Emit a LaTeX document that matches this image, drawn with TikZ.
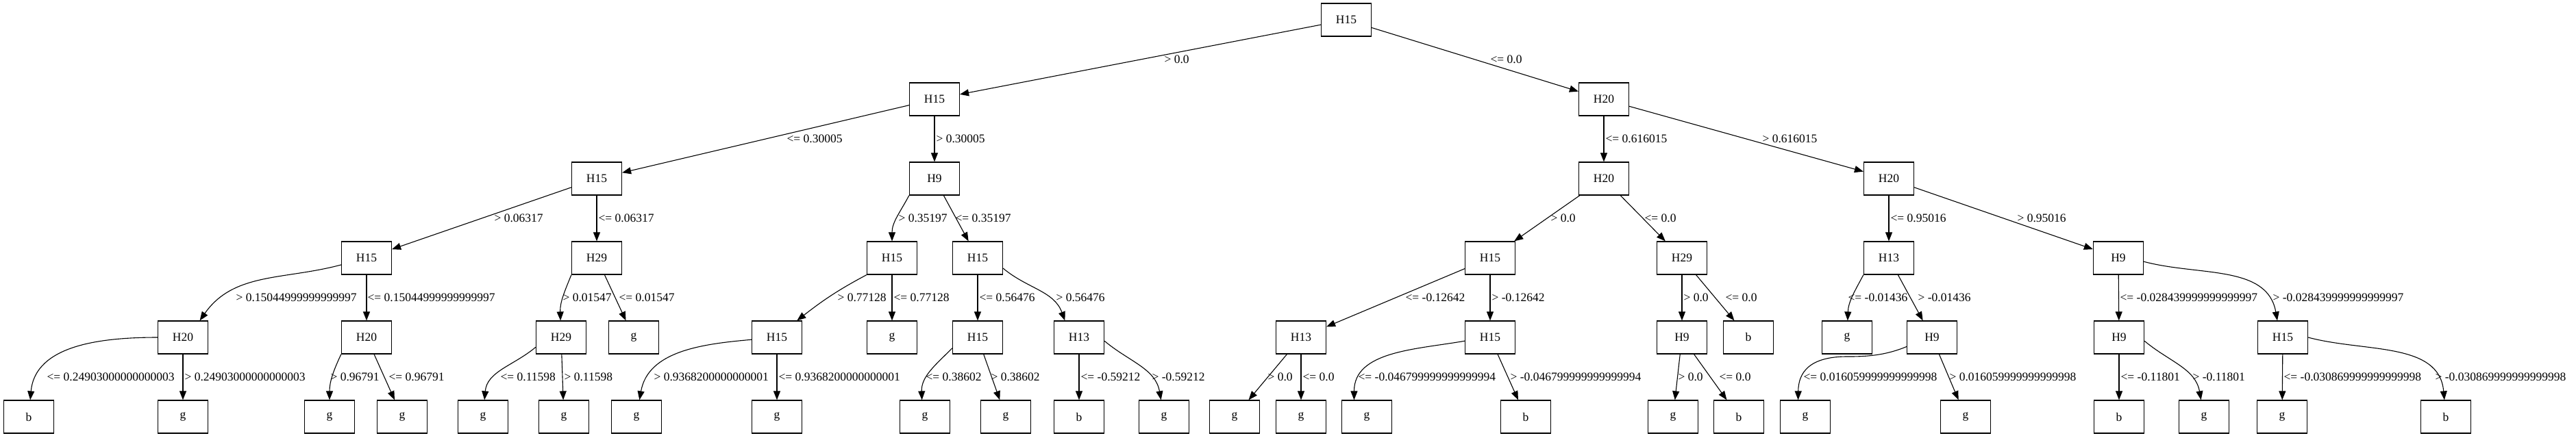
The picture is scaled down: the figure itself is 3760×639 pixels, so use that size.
\documentclass[tikz,border=0pt]{standalone}
\usepackage{fontspec}
\setmainfont{Liberation Serif}
\usepackage{tikz}
\usetikzlibrary{calc, positioning, arrows.meta}
\tikzset{split box/.style={draw=black, rectangle, fill=white, line width=0.6pt, minimum width=36.5pt, minimum height=24pt, inner sep=0pt}}
\tikzset{leaf box/.style={split box}}
\tikzset{branch arrow/.style={-{Triangle[length=6.5pt,width=5pt]}, line width=0.55pt}}
\tikzset{split label/.style={anchor=west, inner sep=0pt}}

\begin{document}
\begin{tikzpicture}[x=0.5pt, y=-0.5pt, font=\fontsize{8.75pt}{10pt}\selectfont]
\useasboundingbox (0,0) rectangle (3760,639);
% level 0 and 1
\node[split box] (t) at (1965,29) {H15};
\node[split box] (tl) at (1364,145) {H15};
\node[split box] (tr) at (2341,145) {H20};
% level 2
\node[split box] (tll) at (871,261) {H15};
\node[split box] (tlr) at (1364,261) {H9};
\node[split box] (trl) at (2341,261) {H20};
\node[split box] (trr) at (2757,261) {H20};
% level 3
\node[split box] (tlll) at (535,377) {H15};
\node[split box] (tllr) at (871,377) {H29};
\node[split box] (tlrl) at (1302,377) {H15};
\node[split box] (tlrr) at (1427,377) {H15};
\node[split box] (trll) at (2175,377) {H15};
\node[split box] (trlr) at (2455,377) {H29};
\node[split box] (trrl) at (2757,377) {H13};
\node[split box] (trrr) at (3092,377) {H9};
% level 4
\node[split box] (tllll) at (267,493) {H20};
\node[split box] (tlllr) at (535,493) {H20};
\node[split box] (tllrl) at (819,493) {H29};
\node[leaf box] (tllrr) at (925,493) {g};
\node[split box] (tlrll) at (1134,493) {H15};
\node[leaf box] (tlrlr) at (1302,493) {g};
\node[split box] (tlrrl) at (1427,493) {H15};
\node[split box] (tlrrr) at (1575,493) {H13};
\node[split box] (trlll) at (1899,493) {H13};
\node[split box] (trllr) at (2175,493) {H15};
\node[split box] (trlrl) at (2455,493) {H9};
\node[leaf box] (trlrr) at (2552,493) {b};
\node[leaf box] (trrll) at (2696,493) {g};
\node[split box] (trrlr) at (2820,493) {H9};
\node[split box] (trrrl) at (3093,493) {H9};
\node[split box] (trrrr) at (3332,493) {H15};
% level 5
\node[leaf box] (tlllll) at (42,609) {b};
\node[leaf box] (tllllr) at (267,609) {g};
\node[leaf box] (tlllrl) at (481,609) {g};
\node[leaf box] (tlllrr) at (587,609) {g};
\node[leaf box] (tllrll) at (705,609) {g};
\node[leaf box] (tllrlr) at (823,609) {g};
\node[leaf box] (tlrlll) at (929,609) {g};
\node[leaf box] (tlrllr) at (1134,609) {g};
\node[leaf box] (tlrrll) at (1350,609) {g};
\node[leaf box] (tlrrlr) at (1468,609) {g};
\node[leaf box] (tlrrrl) at (1575,609) {b};
\node[leaf box] (tlrrrr) at (1699,609) {g};
\node[leaf box] (trllll) at (1802,609) {g};
\node[leaf box] (trlllr) at (1899,609) {g};
\node[leaf box] (trllrl) at (1995,609) {g};
\node[leaf box] (trllrr) at (2227,609) {b};
\node[leaf box] (trlrll) at (2442,609) {g};
\node[leaf box] (trlrlr) at (2538,609) {b};
\node[leaf box] (trrlrl) at (2635,609) {g};
\node[leaf box] (trrlrr) at (2869,609) {g};
\node[leaf box] (trrrll) at (3093,609) {b};
\node[leaf box] (trrrlr) at (3217,609) {g};
\node[leaf box] (trrrrl) at (3331,609) {g};
\node[leaf box] (trrrrr) at (3570,609) {b};

% edges 0-1-2
\draw[branch arrow] (t) -- (tl) node[split label] at (1699,87) {> 0.0};
\draw[branch arrow] (t) -- (tr) node[split label] at (2175,87) {<= 0.0};
\draw[branch arrow] (tl) -- (tll) node[split label] at (1148,203) {<= 0.30005};
\draw[branch arrow] (tl) -- (tlr) node[split label] at (1366,203) {> 0.30005};
\draw[branch arrow] (tr) -- (trl) node[split label] at (2343,203) {<= 0.616015};
\draw[branch arrow] (tr) -- (trr) node[split label] at (2572,203) {> 0.616015};
% edges 2-3
\draw[branch arrow] (tll) -- (tlll) node[split label] at (721,319) {> 0.06317};
\draw[branch arrow] (tll) -- (tllr) node[split label] at (873,319) {<= 0.06317};
\draw[branch arrow] (tlr.south west) to[out=-118,in=90] (tlrl) node[split label] at (1311,319) {> 0.35197};
\draw[branch arrow] (tlr) -- (tlrr) node[split label] at (1394,319) {<= 0.35197};
\draw[branch arrow] (trl) -- (trll) node[split label] at (2263,319) {> 0.0};
\draw[branch arrow] (trl) -- (trlr) node[split label] at (2400,319) {<= 0.0};
\draw[branch arrow] (trr) -- (trrl) node[split label] at (2759,319) {<= 0.95016};
\draw[branch arrow] (trr) -- (trrr) node[split label] at (2944,319) {> 0.95016};
% edges 3-4
\draw[branch arrow] (tlll.195) to[out=195,in=55] (tllll.45) node[split label] at (344,435) {> 0.15044999999999997};
\draw[branch arrow] (tlll) -- (tlllr) node[split label] at (536,435) {<= 0.15044999999999997};
\draw[branch arrow] (tllr.south west) to[out=-112,in=92] (tllrl) node[split label] at (821,435) {> 0.01547};
\draw[branch arrow] (tllr) -- (tllrr) node[split label] at (903,435) {<= 0.01547};
\draw[branch arrow] (tlrl.south west) to[out=-152,in=38] (tlrll.40) node[split label] at (1222,435) {> 0.77128};
\draw[branch arrow] (tlrl) -- (tlrlr) node[split label] at (1304,435) {<= 0.77128};
\draw[branch arrow] (tlrr) -- (tlrrl) node[split label] at (1429,435) {<= 0.56476};
\draw[branch arrow] (tlrr.-22) to[out=-40,in=110] (tlrrr.130) node[split label] at (1541,435) {> 0.56476};
\draw[branch arrow] (trll) -- (trlll) node[split label] at (2051,435) {<= -0.12642};
\draw[branch arrow] (trll) -- (trllr) node[split label] at (2177,435) {> -0.12642};
\draw[branch arrow] (trlr) -- (trlrl) node[split label] at (2457,435) {> 0.0};
\draw[branch arrow] (trlr) -- (trlrr) node[split label] at (2518,435) {<= 0.0};
\draw[branch arrow] (trrl.south west) to[out=-118,in=88] (trrll) node[split label] at (2697,435) {<= -0.01436};
\draw[branch arrow] (trrl) -- (trrlr) node[split label] at (2799,435) {> -0.01436};
\draw[branch arrow] (trrr) -- (trrrl) node[split label] at (3094,435) {<= -0.028439999999999997};
\draw[branch arrow] (trrr.-8) to[out=-15,in=100] (trrrr.108) node[split label] at (3317,435) {> -0.028439999999999997};
% edges 4-5
\draw[branch arrow] (tllll.west) to[out=180,in=85] (tlllll) node[split label] at (68,551) {<= 0.24903000000000003};
\draw[branch arrow] (tllll) -- (tllllr) node[split label] at (269,551) {> 0.24903000000000003};
\draw[branch arrow] (tlllr.south west) to[out=-115,in=90] (tlllrl) node[split label] at (482,551) {> 0.96791};
\draw[branch arrow] (tlllr) -- (tlllrr) node[split label] at (567,551) {<= 0.96791};
\draw[branch arrow] (tllrl.201) to[out=-140,in=85] (tllrll) node[split label] at (730,551) {<= 0.11598};
\draw[branch arrow] (tllrl) -- (tllrlr) node[split label] at (823,551) {> 0.11598};
\draw[branch arrow] (tlrll.185) to[out=185,in=80] (tlrlll) node[split label] at (954,551) {> 0.9368200000000001};
\draw[branch arrow] (tlrll) -- (tlrllr) node[split label] at (1136,551) {<= 0.9368200000000001};
\draw[branch arrow] (tlrrl.203) to[out=-135,in=92] (tlrrll.100) node[split label] at (1351,551) {<= 0.38602};
\draw[branch arrow] (tlrrl) -- (tlrrlr) node[split label] at (1446,551) {> 0.38602};
\draw[branch arrow] (tlrrr) -- (tlrrrl) node[split label] at (1577,551) {<= -0.59212};
\draw[branch arrow] (tlrrr.-8) to[out=-40,in=100] (tlrrrr) node[split label] at (1681,551) {> -0.59212};
\draw[branch arrow] (trlll) -- (trllll) node[split label] at (1850,551) {> 0.0};
\draw[branch arrow] (trlll) -- (trlllr) node[split label] at (1901,551) {<= 0.0};
\draw[branch arrow] (trllr.188) to[out=190,in=90] (trllrl.127) node[split label] at (1982,551) {<= -0.046799999999999994};
\draw[branch arrow] (trllr) -- (trllrr) node[split label] at (2204,551) {> -0.046799999999999994};
\draw[branch arrow] (trlrl) -- (trlrll) node[split label] at (2449,551) {> 0.0};
\draw[branch arrow] (trlrl) -- (trlrlr) node[split label] at (2509,551) {<= 0.0};
\draw[branch arrow] (trrlr.200) .. controls (2755,518) and (2730,521) .. (2700,521) .. controls (2640,520) and (2625,545) .. (trrlrl.113) node[split label] at (2632,551) {<= 0.016059999999999998};
\draw[branch arrow] (trrlr) -- (trrlrr) node[split label] at (2845,551) {> 0.016059999999999998};
\draw[branch arrow] (trrrl) -- (trrrll) node[split label] at (3095,551) {<= -0.11801};
\draw[branch arrow] (trrrl.-8) to[out=-40,in=100] (trrrlr) node[split label] at (3200,551) {> -0.11801};
\draw[branch arrow] (trrrr) -- (trrrrl) node[split label] at (3333,551) {<= -0.030869999999999998};
\draw[branch arrow] (trrrr.0) to[out=-15,in=95] (trrrrr) node[split label] at (3554,551) {> -0.030869999999999998};
\end{tikzpicture}
\end{document}
